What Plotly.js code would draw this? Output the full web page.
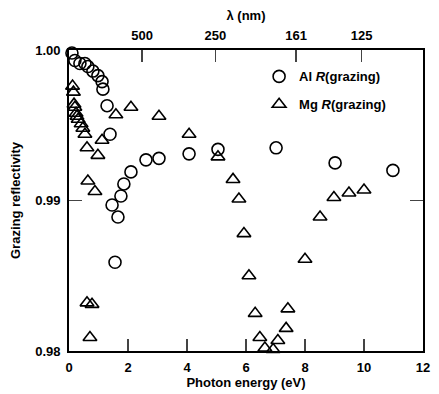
<!DOCTYPE html>
<html>
<head>
<meta charset="utf-8">
<script src="https://cdn.plot.ly/plotly-3.0.1.min.js"></script>
<style>body{margin:0;padding:0;background:#fff}#chart{width:439px;height:394px}</style>
</head>
<body>
<div id="chart"></div>
<script>
// Al R(grazing): photon energy (eV) and reflectivity
const alEnergy = [0.03, 0.10, 0.20, 0.37, 0.54, 0.64, 0.81, 0.98, 1.12, 1.15, 1.29, 1.39, 1.46, 1.56, 1.66, 1.76, 1.86, 2.10, 2.61, 3.05, 4.07, 5.05, 7.02, 9.02, 10.98];
const alRefl   = [1.0001, 0.9998, 0.9993, 0.9991, 0.9991, 0.9989, 0.9986, 0.9983, 0.9979, 0.9974, 0.9963, 0.9944, 0.9897, 0.9859, 0.9889, 0.9903, 0.9911, 0.9919, 0.9927, 0.9928, 0.9931, 0.9934, 0.9935, 0.9925, 0.9920];

// Mg R(grazing)
const mgEnergy = [0.12, 0.15, 0.17, 0.20, 0.24, 0.27, 0.31, 0.41, 0.47, 0.54, 0.61, 0.98, 1.12, 1.59, 2.10, 3.05, 4.07, 5.05, 5.56, 5.76, 5.93, 6.10, 6.31, 6.47, 6.64, 6.92, 7.08, 7.36, 7.42, 8.00, 8.51, 8.98, 9.49, 10.00, 0.64, 0.88, 0.61, 0.78, 0.71];
const mgRefl   = [0.9976, 0.9972, 0.9964, 0.9962, 0.9958, 0.9956, 0.9954, 0.9951, 0.9948, 0.9944, 0.9935, 0.9930, 0.9940, 0.9957, 0.9962, 0.9956, 0.9944, 0.9929, 0.9914, 0.9901, 0.9878, 0.9850, 0.9825, 0.9809, 0.9802, 0.9801, 0.9807, 0.9815, 0.9828, 0.9861, 0.9889, 0.9902, 0.9905, 0.9907, 0.9913, 0.9906, 0.9832, 0.9831, 0.9809];

// Top axis: wavelength tick labels (nm)
const lambdaTicks = [500, 250, 161, 125];
const bottomTicks = [0, 2, 4, 6, 8, 10, 12];
const yTicks = [0.98, 0.99, 1.00];

const topVals = lambdaTicks.map(l => 1240 / l);

const font = {family: 'Liberation Sans, Arial, Helvetica, sans-serif', size: 12, color: '#000', weight: 'bold'};

const traces = [
  {x: alEnergy, y: alRefl, type: 'scatter', mode: 'markers', name: 'Al <i>R</i>(grazing)',
   legendgroup: 'al', cliponaxis: false,
   marker: {symbol: 'circle-open', size: 12, color: '#000', line: {width: 1.6, color: '#000'}}},
  {x: mgEnergy, y: mgRefl, type: 'scatter', mode: 'markers', name: 'Mg <i>R</i>(grazing)',
   legendgroup: 'mg', cliponaxis: false,
   marker: {symbol: 'triangle-up-open', size: 12, color: '#000', line: {width: 1.6, color: '#000'}}},
  {x: [0], y: [0.99], xaxis: 'x2', yaxis: 'y', type: 'scatter', mode: 'markers', showlegend: false,
   marker: {opacity: 0}, hoverinfo: 'skip'}
];

const layout = {
  width: 439, height: 394,
  margin: {l: 69, r: 16, t: 50, b: 43},
  paper_bgcolor: '#fff', plot_bgcolor: '#fff',
  font: font,
  showlegend: true,
  legend: {x: 0.537, y: 0.962, xanchor: 'left', yanchor: 'top', bgcolor: 'rgba(0,0,0,0)',
           traceorder: 'grouped', tracegroupgap: 8, font: {size: 13}},
  xaxis: {range: [0, 12], tickvals: bottomTicks, ticks: 'inside', ticklen: 12, tickwidth: 1.5,
          showline: true, linewidth: 1.8, linecolor: '#000', mirror: true, showgrid: false, zeroline: false,
          ticklabelstandoff: 4,
          title: {text: 'Photon energy (eV)', font: {size: 13}, standoff: 2}, tickfont: {size: 13}},
  xaxis2: {range: [0, 12], overlaying: 'x', side: 'top', tickvals: topVals, ticktext: lambdaTicks.map(String),
           ticks: 'inside', ticklen: 12, tickwidth: 1.5, showgrid: false, zeroline: false, showline: false,
           ticklabelstandoff: 6,
           title: {text: 'λ (nm)', font: {size: 13}, standoff: 4}, tickfont: {size: 13}},
  yaxis: {range: [0.98, 1.0], tickvals: yTicks, ticktext: ['0.98', '0.99', '1.00'], ticks: 'inside', ticklen: 13,
          tickwidth: 1.5, showline: true, linewidth: 1.8, linecolor: '#000', mirror: 'ticks', showgrid: false,
          zeroline: false, ticklabelstandoff: 4,
          title: {text: 'Grazing reflectivity', font: {size: 13}, standoff: 12}, tickfont: {size: 13}}
};

Plotly.newPlot('chart', traces, layout, {displayModeBar: false, staticPlot: true});
</script>
</body>
</html>
